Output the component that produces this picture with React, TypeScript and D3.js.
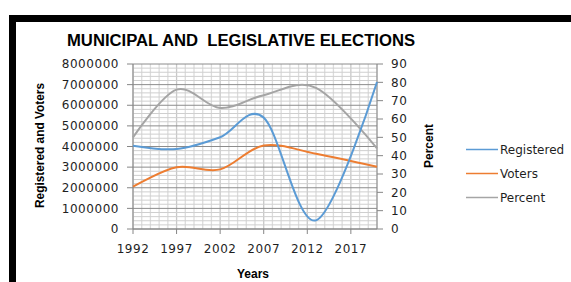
import * as d3 from 'd3';
import React from 'react';

const years = [1992, 1997, 2002, 2007, 2013, 2020];
const registered = [4040000, 3880000, 4450000, 5400000, 420000, 7130000];
const voters = [2050000, 2990000, 2890000, 4050000, 3650000, 3020000];
const percent = [50, 76, 66, 73, 77, 44];

const leftTicks = [0, 1000000, 2000000, 3000000, 4000000, 5000000, 6000000, 7000000, 8000000];
const rightTicks = [0, 10, 20, 30, 40, 50, 60, 70, 80, 90];
const yearTicks = [1992, 1997, 2002, 2007, 2012, 2017];

const seriesNames = ['Registered', 'Voters', 'Percent'];
const colors = ['#5b9bd5', '#ed7d31', '#a5a5a5'];

function App() {
  const width = 571;
  const height = 282;
  const margin = { top: 64, right: 194, bottom: 53, left: 133 };

  const x = d3.scaleLinear().domain([1992, 2020]).range([margin.left, width - margin.right]);
  const yL = d3.scaleLinear().domain([0, 8000000]).range([height - margin.bottom, margin.top]);
  const yR = d3.scaleLinear().domain([0, 90]).range([height - margin.bottom, margin.top]);

  // excel-style smoothing
  const curve = d3.curveCardinal.tension(0);
  const lineL = d3.line<number>()
    .curve(curve)
    .x((d, i) => x(years[i]))
    .y((d) => yL(d));
  const lineR = d3.line<number>()
    .curve(curve)
    .x((d, i) => x(years[i]))
    .y((d) => yR(d));

  const allYears = d3.range(1992, 2021);
  const minorY = d3.range(0, 8000001, 200000);

  const x0 = margin.left;
  const x1 = width - margin.right;
  const y0 = height - margin.bottom;
  const y1 = margin.top;
  const font = "'DejaVu Sans', Verdana, sans-serif";
  const boldFont = "'Liberation Sans', Arial, sans-serif";

  return (
    <svg
      width={width}
      height={height}
      style={{ position: 'absolute', left: 0, top: 0, background: '#fff' }}
    >
      {/* frame bars */}
      <rect x={9} y={15} width={width - 9} height={7} fill="#000" />
      <rect x={9} y={15} width={7} height={height - 15} fill="#000" />

      <text x={67} y={46} fontFamily={boldFont} fontWeight="bold"
        fontSize={16} textLength={348} lengthAdjust="spacingAndGlyphs" fill="#000"
        style={{ whiteSpace: 'pre' }}>
        {'MUNICIPAL AND  LEGISLATIVE ELECTIONS'}
      </text>

      {/* grid */}
      <g>
        {allYears.map((yr) => (
          <line key={'v' + yr} x1={x(yr)} x2={x(yr)} y1={y1} y2={y0}
            stroke={(yr - 1992) % 5 === 0 ? '#c8c8c8' : '#dcdcdc'} strokeWidth={1.3} />
        ))}
        {minorY.map((v) => (
          <line key={'h' + v} x1={x0} x2={x1} y1={yL(v)} y2={yL(v)}
            stroke={v % 1000000 === 0 ? '#8c8c8c' : '#cfcfcf'} strokeWidth={1} />
        ))}
      </g>

      {/* axes */}
      <g stroke="#868686" strokeWidth={1}>
        <line x1={x0} x2={x0} y1={y1} y2={y0} />
        <line x1={x1} x2={x1} y1={y1} y2={y0} />
        <line x1={x0} x2={x1} y1={y0} y2={y0} />
        {leftTicks.map((t) => (
          <line key={'lt' + t} x1={x0 - 6} x2={x0} y1={yL(t)} y2={yL(t)} />
        ))}
        {rightTicks.map((t) => (
          <line key={'rt' + t} x1={x1} x2={x1 + 6} y1={yR(t)} y2={yR(t)} />
        ))}
        {yearTicks.map((t) => (
          <line key={'xt' + t} x1={x(t)} x2={x(t)} y1={y0} y2={y0 + 5} />
        ))}
      </g>

      <g fontFamily={font} fontSize={12} fill="#1f1f1f" letterSpacing={0.55}>
        {leftTicks.map((t) => (
          <text key={'ll' + t} x={119} y={yL(t)} dy="0.35em" textAnchor="end">{t}</text>
        ))}
        {rightTicks.map((t) => (
          <text key={'rl' + t} x={391} y={yR(t)} dy="0.35em" textAnchor="start">{t}</text>
        ))}
        {yearTicks.map((t) => (
          <text key={'xl' + t} x={x(t)} y={253} textAnchor="middle">{t}</text>
        ))}
      </g>

      <text transform="translate(44,145.5) rotate(-90)" textAnchor="middle"
        fontFamily={boldFont} fontWeight="bold" fontSize={12}
        textLength={125} lengthAdjust="spacingAndGlyphs" fill="#000">
        Registered and Voters
      </text>
      <text transform="translate(433,146) rotate(-90)" textAnchor="middle"
        fontFamily={boldFont} fontWeight="bold" fontSize={12}
        fill="#000">
        Percent
      </text>
      <text x={253} y={278} textAnchor="middle"
        fontFamily={boldFont} fontWeight="bold" fontSize={12}
        fill="#000">
        Years
      </text>

      {/* series */}
      <path d={lineR(percent) || ''} fill="none" stroke={colors[2]} strokeWidth={2} />
      <path d={lineL(voters) || ''} fill="none" stroke={colors[1]} strokeWidth={2} />
      <path d={lineL(registered) || ''} fill="none" stroke={colors[0]} strokeWidth={2} />

      {/* legend */}
      <g fontFamily={font} fontSize={12} fill="#1f1f1f">
        {seriesNames.map((name, i) => (
          <g key={name} transform={`translate(466,${149.5 + i * 24})`}>
            <line x1={0} x2={32} y1={0} y2={0} stroke={colors[i]} strokeWidth={1.5} />
            <text x={34} y={0} dy="0.35em">{name}</text>
          </g>
        ))}
      </g>
    </svg>
  );
}

export default App;
